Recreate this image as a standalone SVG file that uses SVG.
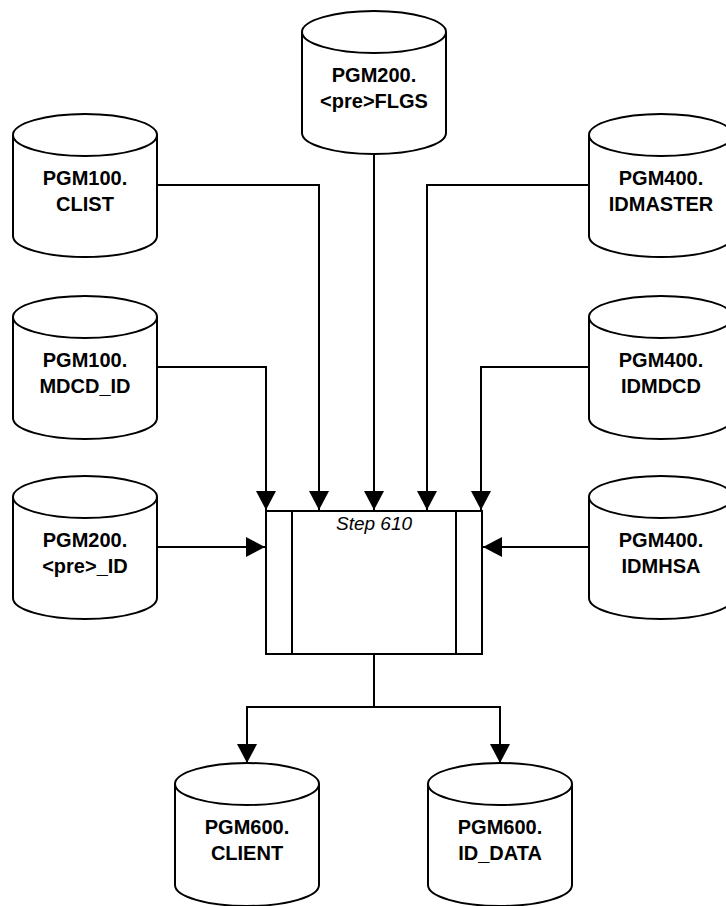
<svg xmlns="http://www.w3.org/2000/svg" width="726" height="906" viewBox="0 0 726 906">
<style>
.cyl{fill:#fff;stroke:#000;stroke-width:2}
.lbl{font-family:"Liberation Sans",Arial,sans-serif;font-weight:bold;font-size:20px;text-anchor:middle;fill:#000}
.con{fill:none;stroke:#000;stroke-width:2}
.box{fill:#fff;stroke:#000;stroke-width:2}
.step{font-family:"Liberation Sans",Arial,sans-serif;font-style:italic;font-size:19px;text-anchor:middle;fill:#000}
</style>
<defs>
<marker id="arr" markerUnits="userSpaceOnUse" markerWidth="19" markerHeight="20" refX="19" refY="10" orient="auto" viewBox="0 0 19 20">
<path d="M0,0 L19,10 L0,20 Z" fill="#000"/>
</marker>
<g id="cylshape">
<path class="cyl" d="M0,21 A72,21 0 0 1 144,21 L144,122 A72,21 0 0 1 0,122 Z"/>
<path class="cyl" d="M0,21 A72,21 0 0 0 144,21"/>
</g>
</defs>
<rect width="726" height="906" fill="#fff"/>
<g id="connectors">
<path class="con" d="M157,185 H319 V510" marker-end="url(#arr)"/>
<path class="con" d="M374,153 V510" marker-end="url(#arr)"/>
<path class="con" d="M589,185 H427 V510" marker-end="url(#arr)"/>
<path class="con" d="M157,367 H266 V510" marker-end="url(#arr)"/>
<path class="con" d="M589,367 H481 V510" marker-end="url(#arr)"/>
<path class="con" d="M157,547 H265" marker-end="url(#arr)"/>
<path class="con" d="M589,547 H483" marker-end="url(#arr)"/>
<path class="con" d="M374,654 V707 H247 V763" marker-end="url(#arr)"/>
<path class="con" d="M374,707 H500 V763" marker-end="url(#arr)"/>
</g>
<g id="step610">
<rect class="box" x="266" y="511" width="216" height="143"/>
<line class="con" x1="292" y1="511" x2="292" y2="654"/>
<line class="con" x1="456" y1="511" x2="456" y2="654"/>
<text class="step" x="374" y="530">Step 610</text>
</g>
<g id="pgm200-flgs" transform="translate(302,11)">
<use href="#cylshape"/>
<text class="lbl" x="72" y="71">PGM200.</text>
<text class="lbl" x="72" y="97">&lt;pre&gt;FLGS</text>
</g>
<g id="pgm100-clist" transform="translate(13,114)">
<use href="#cylshape"/>
<text class="lbl" x="72" y="71">PGM100.</text>
<text class="lbl" x="72" y="97">CLIST</text>
</g>
<g id="pgm400-idmaster" transform="translate(589,114)">
<use href="#cylshape"/>
<text class="lbl" x="72" y="71">PGM400.</text>
<text class="lbl" x="72" y="97">IDMASTER</text>
</g>
<g id="pgm100-mdcd-id" transform="translate(13,296)">
<use href="#cylshape"/>
<text class="lbl" x="72" y="71">PGM100.</text>
<text class="lbl" x="72" y="97">MDCD_ID</text>
</g>
<g id="pgm400-idmdcd" transform="translate(589,296)">
<use href="#cylshape"/>
<text class="lbl" x="72" y="71">PGM400.</text>
<text class="lbl" x="72" y="97">IDMDCD</text>
</g>
<g id="pgm200-pre-id" transform="translate(13,476)">
<use href="#cylshape"/>
<text class="lbl" x="72" y="71">PGM200.</text>
<text class="lbl" x="72" y="97">&lt;pre&gt;_ID</text>
</g>
<g id="pgm400-idmhsa" transform="translate(589,476)">
<use href="#cylshape"/>
<text class="lbl" x="72" y="71">PGM400.</text>
<text class="lbl" x="72" y="97">IDMHSA</text>
</g>
<g id="pgm600-client" transform="translate(175,763)">
<use href="#cylshape"/>
<text class="lbl" x="72" y="71">PGM600.</text>
<text class="lbl" x="72" y="97">CLIENT</text>
</g>
<g id="pgm600-id-data" transform="translate(428,763)">
<use href="#cylshape"/>
<text class="lbl" x="72" y="71">PGM600.</text>
<text class="lbl" x="72" y="97">ID_DATA</text>
</g>
</svg>
